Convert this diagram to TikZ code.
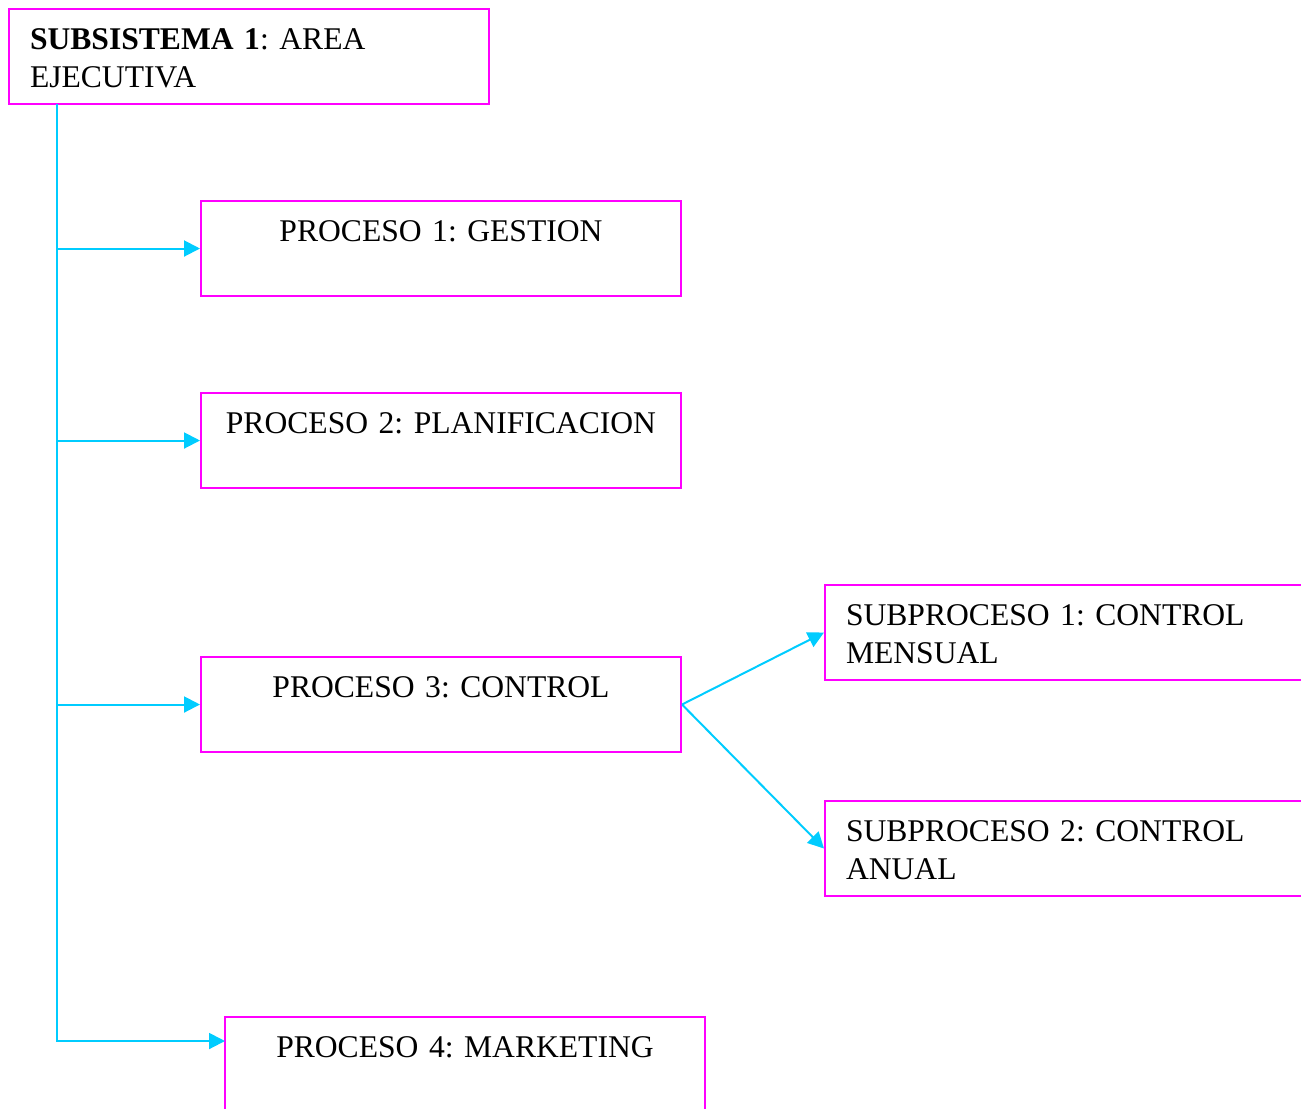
\documentclass[tikz,border=0pt]{standalone}
\usepackage{fontspec}
\setmainfont{Liberation Serif}
\usepackage{xcolor}
\usepackage{tikz}
\usetikzlibrary{arrows.meta, positioning}
\definecolor{rosa}{HTML}{FF00FF}
\definecolor{celeste}{HTML}{00CCFF}
\newcommand{\puntal}{\rule[-2.5pt]{0pt}{14.25pt}}
\frenchspacing

\begin{document}
\begin{tikzpicture}[
		    x=0.375pt, y=-0.375pt,
		    every node/.style={font=\fontsize{11.85}{14.25}\selectfont},
		    caja/.style={draw=rosa, line width=0.75pt, rectangle, minimum width=180pt, minimum height=35.625pt,
		        text width=172pt, inner xsep=4pt, inner ysep=0pt, align=center},
		    cajaizq/.style={caja, text width=164.25pt, inner xsep=7.875pt, align=left}
		]
		\tikzset{
		    flecha/.style={draw=celeste, line width=0.75pt, -{Triangle[length=6pt, width=6pt]}},
		    linea/.style={draw=celeste, line width=0.75pt}
		}
		\useasboundingbox (0,0) rectangle (1301,1108);
		\clip (0,0) rectangle (1301,1108);
		\node[cajaizq] (area) at (249,56.5) {\puntal\textbf{SUBSISTEMA 1}: AREA\\\puntal EJECUTIVA};
		\node[caja] (gestion) at (441,248.5) {\puntal PROCESO 1: GESTION\\\puntal};
		\node[caja] (planif) at (441,440.5) {\puntal PROCESO 2: PLANIFICACION\\\puntal};
		\node[caja] (control) at (441,704.5) {\puntal PROCESO 3: CONTROL\\\puntal};
		\node[caja] (marketing) at (465,1064.5) {\puntal PROCESO 4: MARKETING\\\puntal};
		\node[cajaizq] (mensual) at (1065,632.5) {\puntal SUBPROCESO 1: CONTROL\\\puntal MENSUAL};
		\node[cajaizq] (anual) at (1065,848.5) {\puntal SUBPROCESO 2: CONTROL\\\puntal ANUAL};
		\coordinate (tronco) at (57,104);
		\coordinate (llegada) at (225,1041);
		\draw[flecha] (tronco) |- (llegada);
		\draw[flecha] (tronco |- gestion.west) -- (gestion.west);
		\draw[flecha] (tronco |- planif.west) -- (planif.west);
		\draw[flecha] (tronco |- control.west) -- (control.west);
		\draw[flecha] (control.east) -- (mensual.west);
		\draw[flecha] (control.east) -- (anual.west);
		\end{tikzpicture}
\end{document}
